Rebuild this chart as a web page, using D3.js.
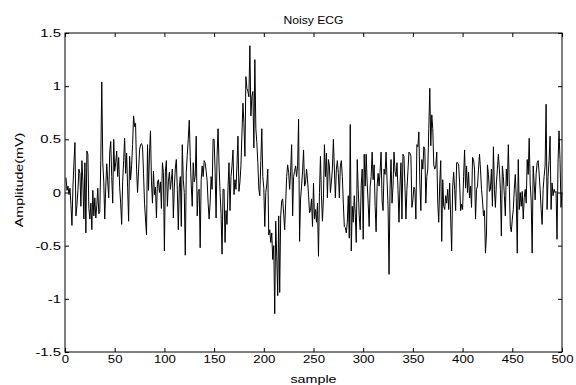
<!DOCTYPE html>
<html>
<head>
<meta charset="utf-8">
<script src="https://cdn.jsdelivr.net/npm/d3@7"></script>
<style>
  body { margin: 0; background: #fff; }
  svg { display: block; font-family: "Liberation Sans", Arial, sans-serif; }
  .tick text { font-size: 11px; fill: #000; }
</style>
</head>
<body>
<div id="chart"></div>
<script>
// Noisy ECG samples (1..500)
const ecg = [
  0.14, 0.02, 0.06, -0.02, 0.04, -0.12, -0.31, 0.05, 0.28,
  0.47, -0.22, -0.12, 0.02, 0.22, 0.18, -0.13, 0.30, 0.10, -0.25,
  0.28, -0.38, 0.39, 0.36, -0.15, -0.25, -0.10, -0.35, 0.02, -0.22,
  -0.05, -0.24, -0.12, 0.04, -0.20, -0.18, 0.30, 1.04, 0.28, 0.10,
  -0.25, 0.05, 0.27, 0.10, -0.05, 0.38, 0.48, 0.15, -0.10, 0.50,
  0.20, 0.28, 0.39, 0.15, 0.33, 0.05, -0.10, -0.30, 0.10, 0.30,
  0.51, 0.18, 0.37, 0.05, -0.27, 0.34, 0.12, 0.25, 0.45, 0.72,
  0.62, 0.65, 0.22, 0.00, 0.20, 0.40, 0.45, 0.46, 0.43, 0.18,
  -0.10, -0.25, -0.40, 0.45, 0.02, 0.37, 0.58, 0.10, -0.10, 0.20,
  -0.02, 0.05, -0.24, 0.10, 0.12, 0.00, 0.10, -0.15, 0.28, 0.19,
  -0.55, 0.20, 0.30, -0.13, 0.10, 0.19, 0.03, 0.12, 0.22, -0.24,
  0.05, 0.23, 0.31, 0.03, -0.35, 0.05, 0.15, -0.32, 0.45, 0.12,
  0.00, -0.59, 0.19, 0.35, 0.50, 0.68, 0.34, 0.07, -0.13, 0.28,
  0.10, 0.15, 0.53, -0.22, 0.01, 0.03, -0.52, 0.12, 0.25, 0.15,
  0.30, 0.28, 0.20, 0.11, -0.10, -0.25, -0.10, 0.15, 0.03, 0.50,
  0.50, 0.20, -0.24, 0.35, 0.60, 0.25, 0.00, -0.20, -0.58, 0.03,
  0.03, -0.47, -0.17, -0.30, 0.05, 0.28, -0.17, 0.15, 0.25, 0.40,
  -0.02, 0.12, 0.03, 0.25, 0.53, 0.01, 0.10, 0.25, 0.55, 0.84,
  0.65, 0.34, 1.09, 0.98, 0.95, 0.90, 1.38, 0.72, 0.90, 0.95,
  0.42, 1.25, 0.60, 0.47, 0.28, 0.03, -0.03, 0.30, 0.60, 0.15,
  0.04, -0.32, 0.00, 0.08, 0.22, -0.40, -0.35, -0.47, -0.38, -0.63,
  -0.50, -1.14, -0.27, -0.60, -0.97, -0.22, -0.94, -0.22, -0.08, -0.06,
  -0.20, -0.35, -0.10, 0.15, 0.26, 0.19, 0.03, 0.20, 0.45, -0.22,
  0.15, 0.20, 0.25, 0.15, 0.25, 0.69, -0.46, -0.06, 0.06, 0.20,
  0.40, 0.06, 0.09, 0.22, 0.12, -0.02, -0.19, -0.17, -0.06, -0.32,
  0.09, -0.25, -0.16, -0.28, -0.10, -0.60, 0.00, 0.34, -0.03, -0.27,
  -0.05, 0.45, 0.15, 0.37, -0.05, 0.31, 0.25, 0.00, 0.10, 0.22,
  0.50, 0.22, -0.05, 0.22, 0.30, 0.18, -0.05, 0.25, 0.30, 0.15,
  -0.10, -0.32, -0.33, -0.38, -0.28, -0.03, -0.43, 0.64, -0.55, -0.13,
  -0.28, -0.03, -0.20, -0.47, 0.31, 0.03, -0.22, -0.35, 0.07, 0.22,
  -0.44, 0.36, 0.06, 0.36, 0.09, -0.10, -0.32, 0.06, 0.15, 0.38,
  0.12, 0.26, -0.13, -0.37, 0.06, 0.18, 0.06, 0.20, 0.38, -0.08,
  -0.17, 0.22, 0.17, 0.38, 0.12, -0.13, -0.77, 0.03, 0.31, -0.10,
  0.06, 0.38, 0.20, 0.15, 0.28, 0.03, -0.28, 0.06, 0.28, -0.25,
  0.36, 0.34, 0.06, -0.25, 0.03, 0.20, 0.38, 0.37, 0.34, -0.14,
  -0.07, 0.05, 0.03, -0.25, 0.45, 0.43, 0.57, 0.09, -0.17, 0.31,
  0.22, 0.43, 0.41, -0.10, 0.15, 0.22, 0.60, 0.98, 0.44, 0.73,
  0.60, 0.26, 0.22, 0.25, 0.38, -0.10, -0.28, 0.09, 0.30, -0.46,
  0.12, -0.13, -0.16, -0.03, -0.10, 0.03, -0.16, 0.09, -0.25, -0.55,
  0.05, 0.19, 0.03, -0.17, 0.28, 0.28, 0.26, 0.09, -0.17, -0.11,
  -0.16, 0.15, 0.40, 0.04, 0.25, 0.00, 0.19, -0.05, 0.06, -0.14,
  0.33, 0.31, 0.22, -0.25, 0.03, 0.06, 0.22, 0.36, 0.22, 0.03,
  -0.07, -0.22, -0.17, -0.57, -0.40, 0.26, 0.17, 0.01, 0.03, 0.22,
  -0.13, 0.43, 0.03, -0.14, 0.09, 0.22, 0.36, 0.22, 0.03, -0.41,
  0.25, 0.15, -0.03, -0.22, 0.22, 0.06, 0.45, 0.06, -0.32, -0.37,
  -0.25, -0.16, 0.03, 0.17, -0.05, -0.57, 0.31, -0.16, 0.00, -0.13,
  0.01, -0.25, -0.05, 0.03, -0.10, 0.31, 0.17, 0.51, 0.09, -0.08,
  -0.57, 0.25, 0.09, -0.07, 0.18, 0.28, 0.30, 0.18, 0.03, -0.16,
  -0.30, 0.03, 0.15, 0.25, 0.83, -0.16, 0.15, 0.30, 0.53, -0.16,
  0.09, -0.03, 0.03, 0.00, 0.01, -0.44, 0.28, 0.58, 0.31, -0.14,
  0.00
];

const xTicks = [0, 50, 100, 150, 200, 250, 300, 350, 400, 450, 500];
const yTicks = [-1.5, -1, -0.5, 0, 0.5, 1, 1.5];

const margin = {top: 33, right: 14, bottom: 33, left: 65},
      width = 576 - margin.left - margin.right,
      height = 385 - margin.top - margin.bottom;

// the reference text is drawn wide, stretch it along the baseline
function widen(sel, k) {
  sel.each(function() {
    const len = this.getComputedTextLength();
    if (len > 0) {
      d3.select(this)
        .attr("textLength", len * k)
        .attr("lengthAdjust", "spacingAndGlyphs");
    }
  });
}

const svg = d3.select("#chart")
  .append("svg")
  .attr("width", 576)
  .attr("height", 385);

const g = svg.append("g")
  .attr("transform", `translate(${margin.left},${margin.top})`);

const x = d3.scaleLinear().domain([0, 500]).range([0, width]);
const y = d3.scaleLinear().domain([-1.5, 1.5]).range([height, 0]);

// bottom and left axes, ticks pointing inward like matlab
const xAxis = g.append("g")
  .attr("transform", `translate(0,${height})`)
  .call(d3.axisBottom(x).tickValues(xTicks).tickSizeInner(-4).tickSizeOuter(0)
    .tickPadding(3).tickFormat(d => String(d)));
const yAxis = g.append("g")
  .call(d3.axisLeft(y).tickValues(yTicks).tickSizeInner(-4).tickSizeOuter(0)
    .tickPadding(4).tickFormat(d => String(d)));

// top and right ticks, no labels
const xTop = g.append("g")
  .call(d3.axisTop(x).tickValues(xTicks).tickSizeInner(-4).tickSizeOuter(0).tickFormat(""));
const yRight = g.append("g")
  .attr("transform", `translate(${width},0)`)
  .call(d3.axisRight(y).tickValues(yTicks).tickSizeInner(-4).tickSizeOuter(0).tickFormat(""));

[xAxis, yAxis, xTop, yRight].forEach(a => {
  a.select(".domain").remove();
  a.selectAll(".tick line").attr("stroke", "#000");
});
widen(xAxis.selectAll(".tick text"), 1.2);
widen(yAxis.selectAll(".tick text"), 1.35);

// the signal
const line = d3.line()
  .x((d, i) => x(i + 1))
  .y(d => y(d));

g.append("path")
  .datum(ecg)
  .attr("fill", "none")
  .attr("stroke", "#000")
  .attr("stroke-width", 1)
  .attr("d", line);

// axes box
g.append("rect")
  .attr("x", 0)
  .attr("y", 0)
  .attr("width", width)
  .attr("height", height)
  .attr("fill", "none")
  .attr("stroke", "#000")
  .attr("stroke-width", 1);

// title and labels
const title = svg.append("text")
  .attr("x", margin.left + width / 2)
  .attr("y", 24)
  .attr("text-anchor", "middle")
  .style("font-size", "11px")
  .text("Noisy ECG");
widen(title, 1.1);

const xLabel = svg.append("text")
  .attr("x", margin.left + width / 2)
  .attr("y", 383)
  .attr("text-anchor", "middle")
  .style("font-size", "11px")
  .text("sample");
widen(xLabel, 1.3);

const yLabel = svg.append("text")
  .attr("transform", "translate(23,180) rotate(-90)")
  .attr("text-anchor", "middle")
  .style("font-size", "11px")
  .text("Amplitude(mV)");
widen(yLabel, 1.3);
</script>
</body>
</html>
